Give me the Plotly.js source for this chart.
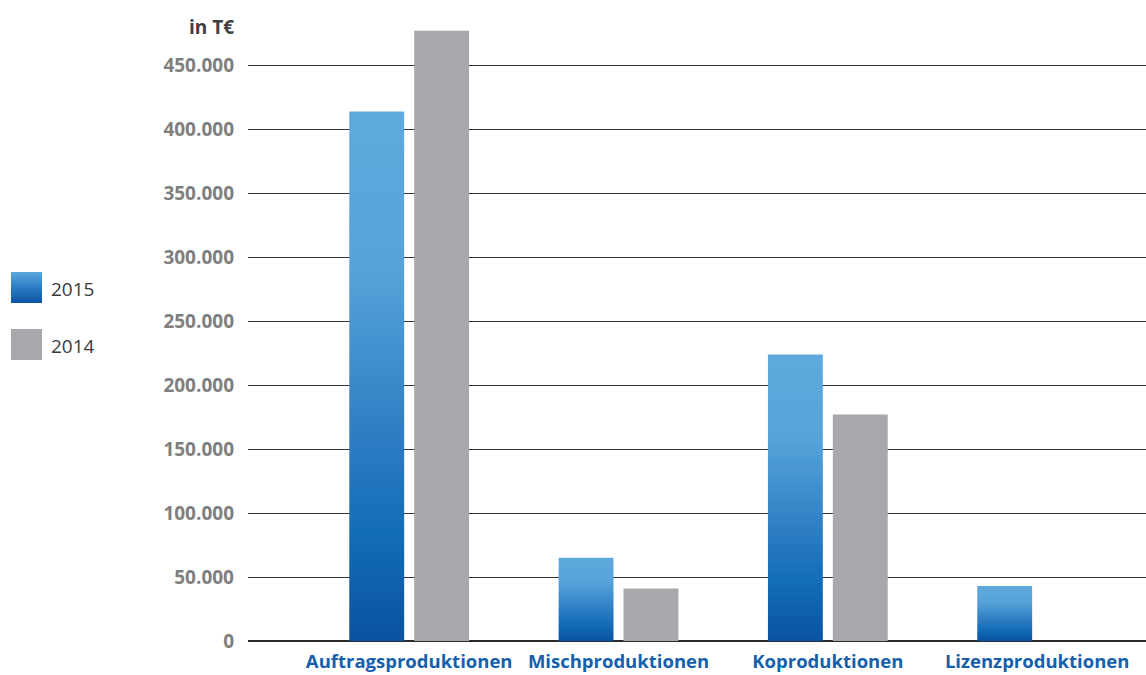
<!DOCTYPE html>
<html>
<head>
<meta charset="utf-8">
<script src="https://cdn.plot.ly/plotly-3.0.1.min.js"></script>
<style>
  html, body { margin: 0; padding: 0; background: #ffffff; }
  #chart { width: 1146px; height: 675px; }
</style>
</head>
<body>
<div id="chart"></div>
<script>
// Umsatz nach Produktionsart, in T€
const categories = ['Auftragsproduktionen', 'Mischproduktionen', 'Koproduktionen', 'Lizenzproduktionen'];
const values2015 = [414000, 65000, 224000, 43000];
const values2014 = [477000, 41000, 177000, null];
const seriesNames = ['2015', '2014'];
const yTicks = [0, 50000, 100000, 150000, 200000, 250000, 300000, 350000, 400000, 450000];

const FONT = '"Open Sans", "Noto Sans", "DejaVu Sans", sans-serif';
const BLUE_TEXT = '#1460ad';
const GREY_BAR = '#a7a8ab';

const traces = [
  {
    type: 'bar',
    name: seriesNames[0],
    x: categories,
    y: values2015,
    marker: { color: '#3a8cce', line: { width: 0 } },
    hoverinfo: 'skip'
  },
  {
    type: 'bar',
    name: seriesNames[1],
    x: categories,
    y: values2014,
    marker: { color: GREY_BAR, line: { width: 0 } },
    hoverinfo: 'skip'
  }
];

// Legend drawn as square swatches with labels to the left of the plot
const plotLeft = 248, plotWidth = 898, plotBottom = 641, plotHeight = 614;
const px2x = p => (p - plotLeft) / plotWidth;
const px2y = p => (plotBottom - p) / plotHeight;

const layout = {
  width: 1146,
  height: 675,
  margin: { l: plotLeft, r: 0, t: 27, b: 34, pad: 0 },
  paper_bgcolor: '#ffffff',
  plot_bgcolor: '#ffffff',
  separators: ',.',
  barmode: 'group',
  bargap: 0.38,
  bargroupgap: 0.154,
  showlegend: false,
  font: { family: FONT },
  xaxis: {
    type: 'category',
    range: [-0.77, 3.52],
    showgrid: false,
    zeroline: false,
    showline: false,
    ticks: '',
    ticklabelstandoff: 7,
    tickfont: { family: FONT, size: 18.5, color: BLUE_TEXT, weight: 'bold' }
  },
  yaxis: {
    range: [0, 480000],
    tickvals: yTicks,
    tickformat: ',d',
    showgrid: true,
    gridcolor: '#333333',
    gridwidth: 1,
    zeroline: true,
    zerolinecolor: '#2a2a2a',
    zerolinewidth: 2,
    showline: false,
    ticks: '',
    ticklabelstandoff: 13,
    tickfont: { family: FONT, size: 19, color: '#7f7f7f', weight: 'bold' }
  },
  shapes: [
    {
      type: 'rect', xref: 'paper', yref: 'paper',
      x0: px2x(11), x1: px2x(42), y0: px2y(303), y1: px2y(272),
      fillcolor: '#3a8cce', line: { width: 0 }
    },
    {
      type: 'rect', xref: 'paper', yref: 'paper',
      x0: px2x(11), x1: px2x(42), y0: px2y(360), y1: px2y(329),
      fillcolor: GREY_BAR, line: { width: 0 }
    }
  ],
  annotations: [
    {
      text: 'in T€', xref: 'paper', yref: 'paper',
      x: px2x(236), y: 1, xanchor: 'right', yanchor: 'middle',
      showarrow: false,
      font: { family: FONT, size: 19, color: '#404040', weight: 'bold' }
    },
    {
      text: seriesNames[0], xref: 'paper', yref: 'paper',
      x: px2x(49), y: px2y(289), xanchor: 'left', yanchor: 'middle',
      showarrow: false,
      font: { family: FONT, size: 19, color: '#3a3a3a' }
    },
    {
      text: seriesNames[1], xref: 'paper', yref: 'paper',
      x: px2x(49), y: px2y(346), xanchor: 'left', yanchor: 'middle',
      showarrow: false,
      font: { family: FONT, size: 19, color: '#3a3a3a' }
    }
  ]
};

// Vertical blue gradient for the 2015 bars and their legend swatch
function applyGradient(gd) {
  const svgNS = 'http://www.w3.org/2000/svg';
  const svg = gd.querySelector('svg.main-svg');
  let defs = svg.querySelector('defs');
  if (!defs) {
    defs = document.createElementNS(svgNS, 'defs');
    svg.insertBefore(defs, svg.firstChild);
  }
  const makeGrad = (id, stops) => {
    const g = document.createElementNS(svgNS, 'linearGradient');
    g.setAttribute('id', id);
    g.setAttribute('x1', '0'); g.setAttribute('y1', '0');
    g.setAttribute('x2', '0'); g.setAttribute('y2', '1');
    stops.forEach(([off, col]) => {
      const s = document.createElementNS(svgNS, 'stop');
      s.setAttribute('offset', off);
      s.setAttribute('stop-color', col);
      g.appendChild(s);
    });
    defs.appendChild(g);
  };
  makeGrad('blueBar', [[0, '#5eaade'], [0.3, '#56a3da'], [0.62, '#2c7cc2'], [0.8, '#126cb8'], [1, '#0a52a2']]);
  makeGrad('blueSwatch', [[0, '#5ba8de'], [0.5, '#2c7cc4'], [1, '#0a52a2']]);

  const barTraces = gd.querySelectorAll('.barlayer .trace.bars');
  if (barTraces.length) {
    barTraces[0].querySelectorAll('path').forEach(p => { p.style.fill = 'url(#blueBar)'; });
  }
  const shapePaths = gd.querySelectorAll('.shapelayer path');
  if (shapePaths.length) {
    shapePaths[0].style.fill = 'url(#blueSwatch)';
  }
}

const gd = document.getElementById('chart');
Plotly.newPlot(gd, traces, layout, { staticPlot: true, displayModeBar: false })
  .then(() => applyGradient(gd));
</script>
</body>
</html>
